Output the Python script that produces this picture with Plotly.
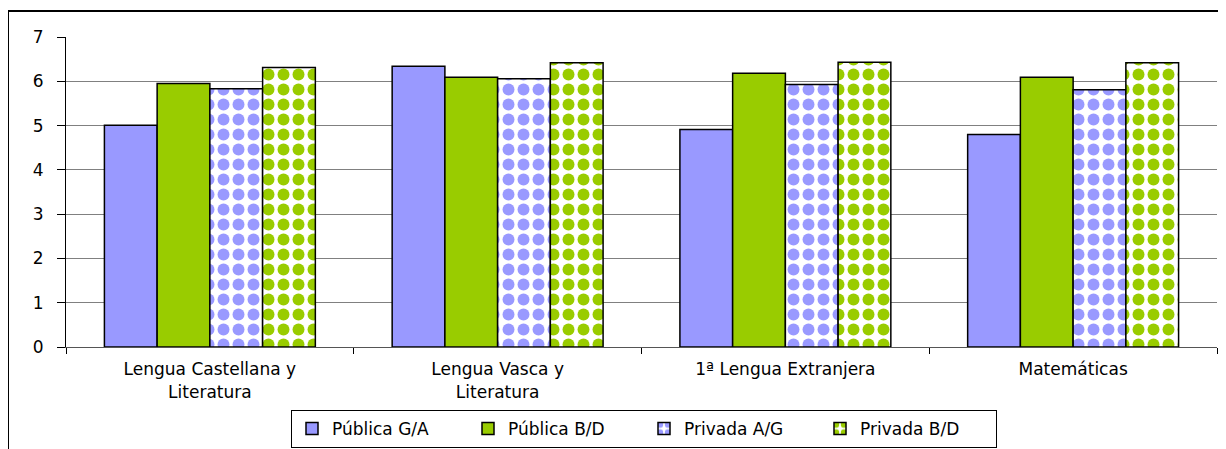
import plotly.graph_objects as go

categories = ["Lengua Castellana y<br>Literatura", "Lengua Vasca y<br>Literatura",
              "1ª Lengua Extranjera", "Matemáticas"]
publica_ga = [5.01, 6.34, 4.91, 4.80]
publica_bd = [5.95, 6.09, 6.18, 6.09]
privada_ag = [5.83, 6.06, 5.93, 5.81]
privada_bd = [6.31, 6.42, 6.43, 6.42]
y_ticks = [0, 1, 2, 3, 4, 5, 6, 7]

BLUE = "#9999FF"
GREEN = "#99CC00"
FONT = "DejaVu Sans"

fig = go.Figure()
line = dict(color="black", width=1.5)
fig.add_bar(name="Pública G/A", x=categories, y=publica_ga,
            marker=dict(color=BLUE, line=line))
fig.add_bar(name="Pública B/D", x=categories, y=publica_bd,
            marker=dict(color=GREEN, line=line))
fig.add_bar(name="Privada A/G", x=categories, y=privada_ag,
            marker=dict(color="white", line=line,
                        pattern=dict(shape=".", fgcolor=BLUE, bgcolor="white",
                                     fgopacity=1, size=15, solidity=0.5,
                                     fillmode="replace")))
fig.add_bar(name="Privada B/D", x=categories, y=privada_bd,
            marker=dict(color="white", line=line,
                        pattern=dict(shape=".", fgcolor=GREEN, bgcolor="white",
                                     fgopacity=1, size=15, solidity=0.5,
                                     fillmode="replace")))

# page has an 8px body margin: the figure starts at (8, 8) in the window
OFF = 8
W, H = 1226 - OFF, 449 - OFF
L = 66 - OFF
T = 37 - OFF
R = W - (1217 - OFF)
B = H - (347 - OFF)
pw, ph = W - L - R, H - T - B

fig.update_layout(
    width=W, height=H,
    margin=dict(l=L, r=R, t=T, b=B, autoexpand=False),
    paper_bgcolor="white", plot_bgcolor="white",
    barmode="group", bargap=0.267, bargroupgap=0,
    font=dict(family=FONT, size=17, color="black"),
    legend=dict(orientation="h", x=(644 - 66) / pw, xanchor="center",
                y=(T + ph - (448 - OFF)) / ph, yanchor="bottom",
                bordercolor="black", borderwidth=1,
                font=dict(family=FONT, size=17), itemwidth=30,
                entrywidth=131, entrywidthmode="pixels",
                tracegroupgap=0),
    xaxis=dict(showline=True, linecolor="#555555", linewidth=1,
               ticks="outside", tickson="boundaries", ticklen=6,
               tickcolor="black", tickfont=dict(family=FONT, size=17),
               ticklabelstandoff=7, automargin=False),
    yaxis=dict(range=[0, 7], tickvals=y_ticks, showgrid=True,
               gridcolor="#808080", gridwidth=1, showline=True,
               linecolor="black", linewidth=1, ticks="outside", ticklen=8,
               tickcolor="black", ticklabelstandoff=10,
               tickfont=dict(family=FONT, size=17), zeroline=False,
               automargin=False),
    shapes=[dict(type="rect", xref="paper", yref="paper",
                 x0=(0 - L) / pw, x1=(W + 20 - L) / pw,
                 y0=(T + ph - H - 20) / ph, y1=(T + ph - (11 - OFF)) / ph,
                 line=dict(color="black", width=2), fillcolor="rgba(0,0,0,0)",
                 layer="below")],
)

fig.write_html("out.html")
